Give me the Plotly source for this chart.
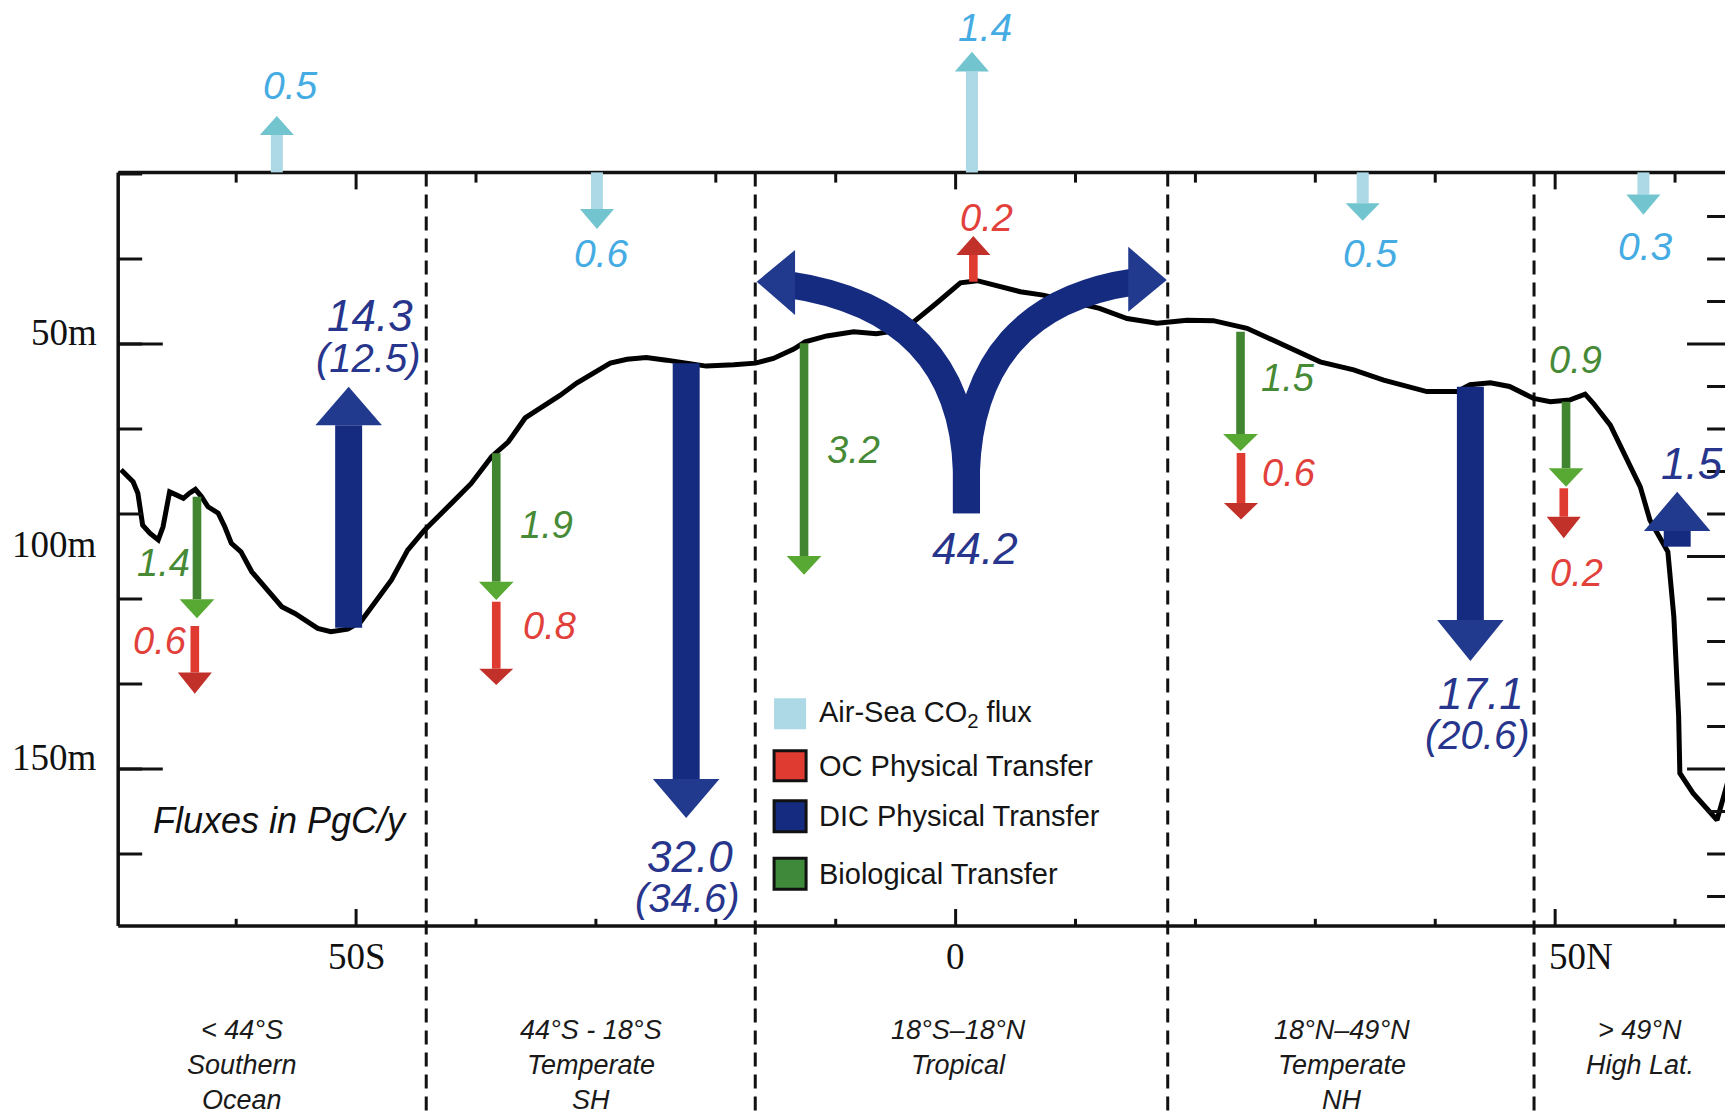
import plotly.graph_objects as go

# ---------------- data ----------------
# Mixed-layer depth along the section (latitude in degrees, depth in m)
mld_lat = [-69.6, -68.6, -68.2, -67.8, -67.2, -66.5, -66.1, -65.55, -65.0, -64.4, -63.9, -63.4,
           -62.9, -62.35, -61.5, -60.95, -60.4, -59.6, -58.7, -57.9, -57.1, -56.2, -55.1, -54.3,
           -53.2, -52.1, -50.7, -49.6, -48.45, -47.05, -45.7, -44.3, -42.05, -40.4, -38.7, -37.3,
           -35.9, -34.25, -33.0, -31.6, -30.2, -28.8, -27.4, -25.8, -24.1, -22.4, -20.8, -18.5,
           -16.7, -15.2, -13.5, -12.55, -10.75, -8.5, -6.6, -5.5, -3.5, -1.6, 0.4, 1.8, 3.1, 5.4,
           7.3, 12.0, 14.3, 16.8, 19.3, 21.5, 24.3, 27.3, 30.4, 33.2, 35.7, 39.3, 41.8, 42.9, 44.6,
           46.2, 48.2, 49.6, 51.2, 52.5, 53.2, 54.6, 55.7, 57.1, 57.9, 59.4, 59.9, 60.3, 60.4,
           61.5, 63.5, 64.6, 65.5]
mld_depth = [79.6, 82.4, 85.1, 92.6, 94.5, 96.1, 93.0, 84.8, 85.5, 86.3, 85.1, 84.2,
             85.9, 88.3, 89.8, 93.0, 96.9, 98.9, 103.6, 106.3, 108.7, 111.8, 113.4, 114.9,
             116.9, 117.7, 117.1, 115.3, 111.0, 105.5, 98.5, 93.8, 87.5, 82.8, 76.5, 73.0,
             67.4, 64.4, 62.1, 59.2, 56.9, 54.5, 53.6, 53.2, 53.8, 54.5, 55.2, 54.9,
             54.5, 53.4, 51.2, 49.5, 48.1, 47.1, 47.6, 47.1, 44.8, 40.4, 35.6, 35.1, 36.1, 37.7,
             38.5, 41.6, 44.0, 45.1, 44.4, 44.5, 46.3, 50.2, 54.2, 56.1, 58.5, 61.2, 61.2, 59.6, 59.1,
             60.0, 62.8, 63.6, 63.2, 61.8, 64.0, 69.1, 75.7, 83.6, 91.4, 98.9, 114.2, 137.7, 151.0,
             155.7, 162.0, 151.0, 128.0]

region_bounds = [-44.15, -16.71, 17.69, 48.24]   # latitudes of the region separators
region_lines = [["< 44°S", "Southern", "Ocean"],
                ["44°S - 18°S", "Temperate", "SH"],
                ["18°S–18°N", "Tropical"],
                ["18°N–49°N", "Temperate", "NH"],
                ["> 49°N", "High Lat."]]

air_sea = ["0.5", "0.6", "1.4", "0.5", "0.3"]          # PgC/y
oc_transfer = ["0.6", "0.8", "0.2", "0.6", "0.2"]
bio_transfer = ["1.4", "1.9", "3.2", "1.5", "0.9"]
dic_transfer = ["14.3", "32.0", "44.2", "17.1", "1.5"]
dic_alt = ["(12.5)", "(34.6)", "", "(20.6)", ""]

x_tickvals = [-50, 0, 50]
x_ticktext = ["50S", "0", "50N"]
y_tickvals = [50, 100, 150]
y_ticktext = ["50m", "100m", "150m"]

legend_labels = ["Air-Sea CO<sub>2</sub> flux", "OC Physical Transfer",
                 "DIC Physical Transfer", "Biological Transfer"]

# ---------------- styles / layout geometry ----------------
C_AIR, C_AIR_HEAD, C_AIR_TXT = "#ADD8E5", "#72C5CF", "#45ACE3"
C_OC, C_OC_HEAD, C_OC_TXT = "#E03B30", "#C2302A", "#E2403A"
C_BIO, C_BIO_HEAD, C_BIO_TXT = "#428531", "#58A934", "#468A36"
C_DIC, C_DIC_HEAD, C_DIC_TXT = "#152B80", "#213A8D", "#28358C"
SANS = "Liberation Sans, Arial, Helvetica, sans-serif"
SERIF = "Liberation Serif, Times New Roman, serif"

# canvas extent (the page body adds an 8 px offset, compensated here)
X0, X1 = -79.03, 65.50          # degrees
Y_TOP, Y_BOT = -29.06, 233.06   # metres
LEFT_SPINE, TOP_SPINE, BOT_SPINE = -69.84, 9.62, 186.95

# arrow geometry: lat, tail, head base, tip (depth), label position (lat, depth)
air_geom = [(-56.61, TOP_SPINE, 0.8, -3.65, -55.45, -10.9),
            (-29.91, TOP_SPINE, 18.24, 22.94, -29.52, 28.66),
            (1.36, TOP_SPINE, -14.14, -18.75, 2.41, -24.4),
            (33.95, TOP_SPINE, 16.9, 21.0, 34.60, 28.59),
            (57.36, TOP_SPINE, 14.85, 19.58, 57.50, 26.94)]
oc_geom = [(-63.45, 116.35, 127.3, 132.3, -66.35, 119.9),
           (-38.31, 110.64, 126.4, 130.24, -33.83, 116.35),
           (1.48, 35.34, 29.06, 24.59, 2.59, 20.42),
           (23.80, 75.65, 87.41, 91.29, 27.78, 80.35),
           (50.72, 83.95, 90.64, 95.72, 51.74, 103.95)]
bio_geom = [(-63.27, 85.93, 110.07, 114.54, -66.1, 101.6),
            (-38.31, 75.72, 105.93, 110.24, -34.14, 92.59),
            (-12.64, 49.84, 99.88, 104.28, -8.53, 74.94),
            (23.76, 47.11, 71.18, 75.18, 27.75, 58.07),
            (50.91, 63.58, 79.25, 83.58, 51.66, 53.76)]
dic_geom = [(-50.62, 116.75, 69.13, 60.07, -48.84, 43.18, -48.98, 53.18),
            (-22.47, 54.54, 152.35, 161.53, -22.18, 170.59, -22.36, 180.47),
            None,
            (42.93, 60.05, 114.94, 124.59, 43.82, 132.12, 43.54, 142.0),
            (60.18, 97.69, 94.0, 84.75, 61.39, 78.07, None, None)]
split_label = (1.6, 98.0)

shapes = []
annotations = []


def arrow(lat, tail, base, tip, shaft_w, head_w, c_shaft, c_head):
    shapes.append(dict(type="rect", xref="x", yref="y", x0=lat - shaft_w / 2, x1=lat + shaft_w / 2,
                       y0=tail, y1=base, fillcolor=c_shaft, line=dict(width=0), layer="above"))
    shapes.append(dict(type="path", xref="x", yref="y",
                       path=f"M {lat - head_w / 2},{base} L {lat + head_w / 2},{base} L {lat},{tip} Z",
                       fillcolor=c_head, line=dict(width=0), layer="above"))


def label(text, lat, depth, size, color, italic=True, xanchor="center", family=SANS):
    annotations.append(dict(x=lat, y=depth, xref="x", yref="y", showarrow=False,
                            text=f"<i>{text}</i>" if italic else text, xanchor=xanchor,
                            yanchor="middle", font=dict(family=family, size=size, color=color)))


# ---------------- frame ----------------
spine = dict(color="#111111", width=3.5)
shapes.append(dict(type="line", xref="x", yref="y", x0=LEFT_SPINE, x1=LEFT_SPINE,
                   y0=TOP_SPINE, y1=BOT_SPINE, line=spine))
shapes.append(dict(type="line", xref="x", yref="y", x0=LEFT_SPINE, x1=X1 + 1,
                   y0=TOP_SPINE, y1=TOP_SPINE, line=spine))
shapes.append(dict(type="line", xref="x", yref="y", x0=LEFT_SPINE, x1=X1 + 1,
                   y0=BOT_SPINE, y1=BOT_SPINE, line=spine))

tick = dict(color="#111111", width=3)
for lat in range(-60, 61, 10):
    long = lat in x_tickvals
    shapes.append(dict(type="line", xref="x", yref="y", x0=lat, x1=lat, y0=BOT_SPINE,
                       y1=BOT_SPINE - (4.0 if long else 1.7), line=tick))
    shapes.append(dict(type="line", xref="x", yref="y", x0=lat, x1=lat, y0=TOP_SPINE,
                       y1=TOP_SPINE + (4.0 if long else 2.4), line=tick))
for d in range(10, 171, 20):
    shapes.append(dict(type="line", xref="x", yref="y", x0=LEFT_SPINE, x1=LEFT_SPINE + 2.0,
                       y0=d, y1=d, line=tick))
for d in y_tickvals[::2]:
    shapes.append(dict(type="line", xref="x", yref="y", x0=LEFT_SPINE, x1=LEFT_SPINE + 3.72,
                       y0=d, y1=d, line=tick))
for d in range(20, 181, 10):
    long = d in y_tickvals
    shapes.append(dict(type="line", xref="x", yref="y", x0=61.0 if long else 62.67, x1=X1 + 1,
                       y0=d, y1=d, line=tick))

for t, v in zip(y_ticktext, y_tickvals):
    annotations.append(dict(x=-71.4, y=v - 2.8, xref="x", yref="y", showarrow=False, text=t,
                            xanchor="right", yanchor="middle",
                            font=dict(family=SERIF, size=37, color="#111111")))
x_label_pos = [-49.93, 0.0, 52.16]
for t, p in zip(x_ticktext, x_label_pos):
    annotations.append(dict(x=p, y=194.2, xref="x", yref="y", showarrow=False, text=t,
                            xanchor="center", yanchor="middle",
                            font=dict(family=SERIF, size=37, color="#111111")))

# region separators
for b in region_bounds:
    shapes.append(dict(type="line", xref="x", yref="y", x0=b, x1=b, y0=TOP_SPINE, y1=Y_BOT + 2,
                       line=dict(color="#111111", width=3, dash="14px,8px"), layer="below"))

region_centers = [-59.52, -30.37, 0.24, 32.19, 57.11]
line_depths = [211.41, 219.65, 227.88]
for lines, c in zip(region_lines, region_centers):
    for ln, dd in zip(lines, line_depths):
        label(ln, c, dd, 27, "#1a1a1a")

# ---------------- arrows ----------------
for v, g in zip(air_sea, air_geom):
    lat, tail, base, tip, lx, ly = g
    arrow(lat, tail, base, tip, 1.0, 2.84, C_AIR, C_AIR_HEAD)
    label(v, lx, ly, 39, C_AIR_TXT)

for v, g in zip(oc_transfer, oc_geom):
    lat, tail, base, tip, lx, ly = g
    arrow(lat, tail, base, tip, 0.72, 2.84, C_OC, C_OC_HEAD)
    label(v, lx, ly, 38, C_OC_TXT)

for v, g in zip(bio_transfer, bio_geom):
    lat, tail, base, tip, lx, ly = g
    arrow(lat, tail, base, tip, 0.72, 2.9, C_BIO, C_BIO_HEAD)
    label(v, lx, ly, 38, C_BIO_TXT)

for v, alt, g in zip(dic_transfer, dic_alt, dic_geom):
    if g is None:
        # divergent tropical upwelling: stem splitting into two curved arms
        for path in ["M 0.9,89.84 L 0.9,80.0 Q 0.5,42.0 -14.0,36.0",
                     "M 0.9,89.84 L 0.9,80.0 Q 1.4,41.0 14.9,35.4"]:
            shapes.append(dict(type="path", xref="x", yref="y", path=path,
                               line=dict(color=C_DIC, width=27), layer="above"))
        shapes.append(dict(type="path", xref="x", yref="y",
                           path="M -13.39,27.88 L -13.39,43.18 L -16.59,35.34 Z",
                           fillcolor=C_DIC_HEAD, line=dict(width=0), layer="above"))
        shapes.append(dict(type="path", xref="x", yref="y",
                           path="M 14.40,27.11 L 14.40,42.4 L 17.61,34.94 Z",
                           fillcolor=C_DIC_HEAD, line=dict(width=0), layer="above"))
        label(v, split_label[0], split_label[1], 44, C_DIC_TXT)
        continue
    lat, tail, base, tip, l1x, l1y, l2x, l2y = g
    arrow(lat, tail, base, tip, 2.25, 5.55, C_DIC, C_DIC_HEAD)
    label(v, l1x, l1y, 44, C_DIC_TXT)
    if alt:
        label(alt, l2x, l2y, 40, C_DIC_TXT)

# ---------------- legend ----------------
leg_colors = [C_AIR, C_OC, C_DIC, "#3F8A3A"]
leg_rows = [(133.36, 140.66), (145.69, 152.75), (157.46, 164.75), (171.01, 178.31)]
for i, (lab, col, (y0, y1)) in enumerate(zip(legend_labels, leg_colors, leg_rows)):
    shapes.append(dict(type="rect", xref="x", yref="y", x0=-15.14, x1=-12.47, y0=y0, y1=y1,
                       fillcolor=col,
                       line=dict(color="#111111", width=0 if i == 0 else 3), layer="above"))
    annotations.append(dict(x=-11.58, y=(y0 + y1) / 2, xref="x", yref="y", showarrow=False,
                            text=lab, xanchor="left", yanchor="middle",
                            font=dict(family=SANS, size=29, color="#151515")))

label("Fluxes in PgC/y", -56.35, 162.0, 36, "#111111")

# ---------------- figure ----------------
fig = go.Figure()
fig.add_trace(go.Scatter(x=mld_lat, y=mld_depth, mode="lines",
                         line=dict(color="#000000", width=5), hoverinfo="skip",
                         cliponaxis=True))
fig.update_layout(
    width=1733, height=1114, margin=dict(l=0, r=0, t=0, b=0, pad=0),
    paper_bgcolor="white", plot_bgcolor="white", showlegend=False,
    xaxis=dict(range=[X0, X1], visible=False, fixedrange=True),
    yaxis=dict(range=[Y_BOT, Y_TOP], visible=False, fixedrange=True),
    shapes=shapes, annotations=annotations,
)
fig.write_html("out.html")
